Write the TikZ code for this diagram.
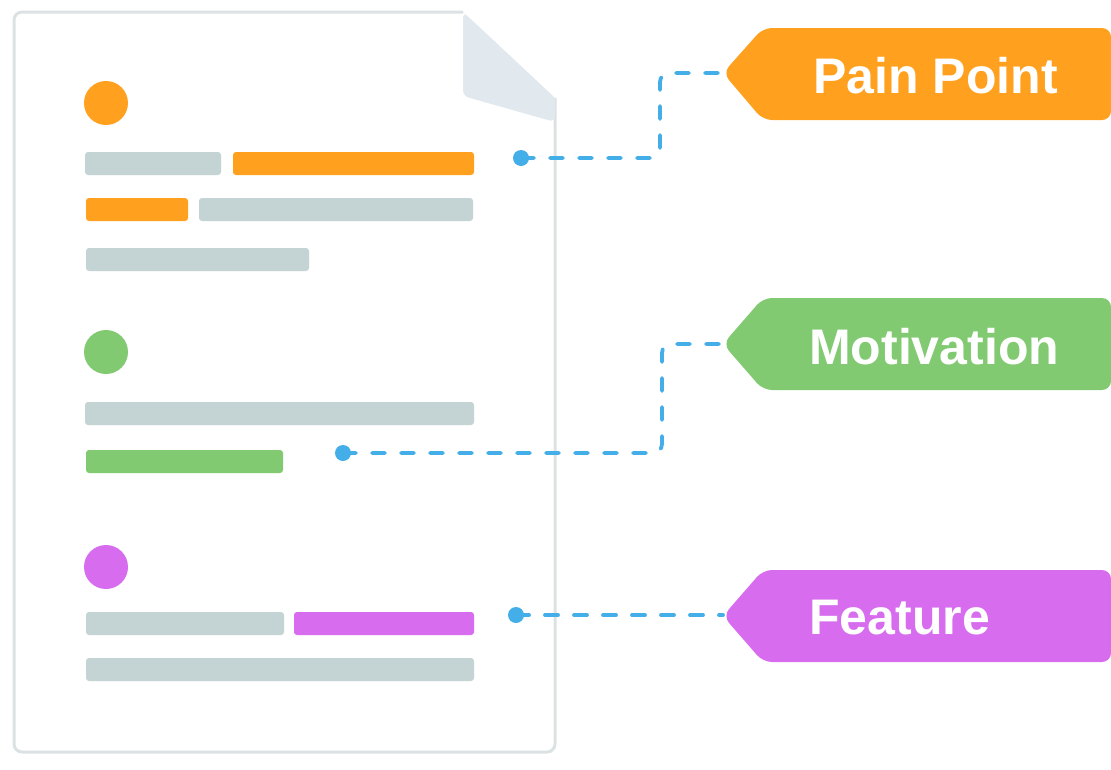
\documentclass[tikz,border=0pt]{standalone}
\usepackage{fontspec}
\setmainfont{Liberation Sans}
\usepackage{tikz}
\usetikzlibrary{calc,positioning}

\definecolor{painorange}{HTML}{FFA01F}
\definecolor{motivgreen}{HTML}{82CA72}
\definecolor{featpurple}{HTML}{D76CEF}
\definecolor{bargray}{HTML}{C4D4D4}
\definecolor{pageline}{HTML}{DCE2E3}
\definecolor{foldfill}{HTML}{E1E8EE}
\definecolor{linkblue}{HTML}{44AEE8}

\begin{document}
\begin{tikzpicture}[x=1pt,y=-1pt,
    txtbar/.style={rounded corners=3pt},
    bullet/.style={circle,inner sep=0pt,minimum size=44pt},
    linkdot/.style={circle,fill=linkblue,inner sep=0pt,minimum size=16pt},
    link/.style={draw=linkblue,line width=3.8pt,line cap=round,dash pattern=on 13pt off 16pt,rounded corners=9pt},
    tagbody/.style={rounded corners=9pt},
    tagtext/.style={anchor=west,text=white,font=\fontsize{50}{60}\selectfont\bfseries,inner sep=0pt}]
      \useasboundingbox (0,0) rectangle (1111,769);

      % the page
      \fill[white,rounded corners=8pt]
        (14,12) -- (463,12) -- (555,98) -- (555,752) -- (14,752) -- cycle;
      \draw[pageline,line width=3pt,rounded corners=8pt]
        (555,98) -- (555,752) -- (14,752) -- (14,12) -- (463,12);
      \fill[foldfill,rounded corners=6pt] (463,12) -- (463,96) -- (555,122) -- (555,98) -- cycle;
      \fill[foldfill] (463,12) -- (555,98) -- (555,110) -- (470,20) -- cycle;

      % first block
      \node[bullet,fill=painorange] (b1) at (106,103) {};
      \fill[bargray,txtbar] (85,152) rectangle (221,175);
      \fill[painorange,txtbar] (233,152) rectangle (474,175);
      \fill[painorange,txtbar] (86,198) rectangle (188,221);
      \fill[bargray,txtbar] (199,198) rectangle (473,221);
      \fill[bargray,txtbar] (86,248) rectangle (309,271);

      % second block
      \node[bullet,fill=motivgreen] (b2) at (106,352) {};
      \fill[bargray,txtbar] (85,402) rectangle (474,425);
      \fill[motivgreen,txtbar] (86,450) rectangle (283,473);

      % third block
      \node[bullet,fill=featpurple] (b3) at (106,567) {};
      \fill[bargray,txtbar] (86,612) rectangle (284,635);
      \fill[featpurple,txtbar] (294,612) rectangle (474,635);
      \fill[bargray,txtbar] (86,658) rectangle (474,681);

      % tags
      \fill[painorange,tagbody] (723,73) -- (763,28) -- (1111,28) -- (1111,120) -- (763,120) -- cycle;
      \coordinate (ptip) at (723,73);
      \node[tagtext] (pain) at (813,76) {Pain Point};

      \fill[motivgreen,tagbody] (723,344) -- (763,298) -- (1111,298) -- (1111,390) -- (763,390) -- cycle;
      \coordinate (mtip) at (723,344);
      \node[tagtext] (motiv) at (809,347) {Motivation};

      \fill[featpurple,tagbody] (723,616) -- (763,570) -- (1111,570) -- (1111,662) -- (763,662) -- cycle;
      \coordinate (ftip) at (723,616);
      \node[tagtext] (feat) at (809,618) {Feature};

      % connectors
      \node[linkdot] (pdot) at (521,158) {};
      \node[linkdot] (mdot) at (343,453) {};
      \node[linkdot] (fdot) at (516,615) {};

      \draw[link] (pdot.center) -| ([xshift=-63pt]ptip) -- (ptip);
      \draw[link] (mdot.center) -| ([xshift=-61pt]mtip) -- (mtip);
      \draw[link,rounded corners=0pt] (fdot.center) -- (fdot.center -| ftip);
    \end{tikzpicture}
\end{document}
